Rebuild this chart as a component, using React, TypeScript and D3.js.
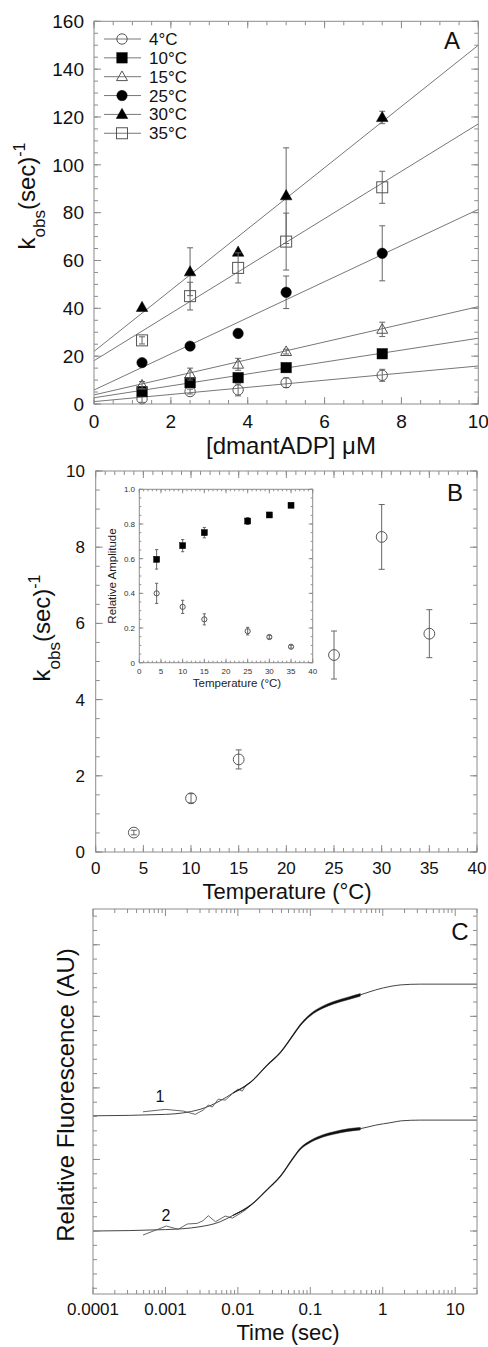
import React from "react";
import * as d3 from "d3";

const FONT = "'Liberation Sans', Arial, Helvetica, sans-serif";
const FRAME = "#8c8c8c";

// ---------- Panel A data ----------
const concA = [1.25, 2.5, 3.75, 5, 7.5];
const legendA = ["4°C", "10°C", "15°C", "25°C", "30°C", "35°C"];
const kobs4 = [2.2, 5.2, 5.9, 8.9, 12.0];
const err4 = [1.5, 1.0, 2.5, 2.0, 2.5];
const kobs10 = [5.2, 8.9, 11.0, 15.2, 21.0];
const err10 = [0.8, 0.8, 0.8, 0.8, 0.8];
const kobs15 = [7.9, 12.5, 16.6, 21.9, 31.2];
const err15 = [1.5, 2.5, 2.5, 1.0, 3.0];
const kobs25 = [17.3, 24.2, 29.5, 46.7, 63.0];
const err25 = [0.5, 0.5, 1.8, 6.8, 11.5];
const kobs30 = [40.4, 55.3, 63.5, 87.1, 119.8];
const err30 = [0.5, 10.0, 0.5, 20.0, 2.6];
const kobs35 = [26.6, 45.1, 56.9, 67.9, 90.6];
const err35 = [1.5, 5.8, 6.3, 11.9, 6.7];
const fitIntercepts = [1.0, 2.6, 3.8, 5.85, 22.0, 18.1];
const fitSlopes = [1.49, 2.49, 3.69, 7.55, 12.8, 9.9];
const xTicksA = [0, 2, 4, 6, 8, 10];
const yTicksA = [0, 20, 40, 60, 80, 100, 120, 140, 160];

// ---------- Panel B data ----------
const tempsB = [4, 10, 15, 25, 30, 35];
const kobsB = [0.51, 1.41, 2.43, 5.17, 8.27, 5.73];
const errB = [0.06, 0.12, 0.25, 0.63, 0.85, 0.63];
const ampFast = [0.596, 0.675, 0.75, 0.817, 0.852, 0.908];
const ampFastErr = [0.056, 0.035, 0.03, 0.02, 0.01, 0.008];
const ampSlow = [0.4, 0.322, 0.25, 0.182, 0.148, 0.092];
const ampSlowErr = [0.058, 0.038, 0.032, 0.022, 0.01, 0.008];
const xTicksB = [0, 5, 10, 15, 20, 25, 30, 35, 40];
const yTicksB = [0, 2, 4, 6, 8, 10];
const yTicksInset = [0, 0.2, 0.4, 0.6, 0.8, 1.0];

// ---------- Panel C data ----------
const timeFit = [0.0001, 0.001, 0.003, 0.0057, 0.0086, 0.015, 0.0255, 0.039, 0.058, 0.073, 0.1, 0.15, 0.21, 0.33, 0.49, 0.8, 1.3, 1.8, 3.3, 20];
const fitTrace1 = [1.61, 1.63, 1.7, 1.82, 1.93, 2.08, 2.32, 2.5, 2.74, 2.88, 3.02, 3.13, 3.19, 3.25, 3.3, 3.37, 3.42, 3.44, 3.45, 3.45];
const fitTrace2 = [0.0, 0.02, 0.06, 0.13, 0.22, 0.36, 0.58, 0.77, 1.02, 1.15, 1.25, 1.33, 1.37, 1.41, 1.43, 1.48, 1.515, 1.54, 1.55, 1.55];
const noiseHalf = [0, 0, 0, 0, 0.004, 0.006, 0.008, 0.009, 0.011, 0.012, 0.014, 0.016, 0.017, 0.018, 0.018, 0, 0, 0, 0, 0];
const rawTime1 = [0.00049, 0.001, 0.00176, 0.00258, 0.00332, 0.0039, 0.00443, 0.00536, 0.0067, 0.0086, 0.01, 0.0115, 0.013, 0.015];
const rawTrace1 = [1.666, 1.7, 1.676, 1.63, 1.69, 1.76, 1.732, 1.843, 1.829, 1.927, 1.983, 1.955, 2.039, 2.081];
const rawTime2 = [0.00049, 0.00103, 0.0015, 0.002, 0.00275, 0.0033, 0.0039, 0.0049, 0.0067, 0.0084, 0.0108, 0.013, 0.015];
const rawTrace2 = [-0.056, 0.07, 0.024, 0.098, 0.107, 0.144, 0.214, 0.13, 0.209, 0.181, 0.247, 0.3, 0.363];
const xTickLabelsC = ["0.0001", "0.001", "0.01", "0.1", "1", "10"];
const xTickValuesC = [0.0001, 0.001, 0.01, 0.1, 1, 10];
const yTicksC = [0, 1, 2, 3, 4];

function Frame({ xs, ys, xMajor, xMinor, yMajor, yMinor, maj = 7, min = 4 }: any) {
  const [x0, x1] = xs.range();
  const [y0, y1] = ys.range();
  const out: any[] = [];
  const add = (k: string, a: number, b: number, c: number, d: number) =>
    out.push(<line key={k} x1={a} y1={b} x2={c} y2={d} />);
  xMinor.forEach((v: number, i: number) => {
    const p = xs(v);
    add("xmb" + i, p, y0, p, y0 - min);
    add("xmt" + i, p, y1, p, y1 + min);
  });
  xMajor.forEach((v: number, i: number) => {
    const p = xs(v);
    add("xb" + i, p, y0, p, y0 - maj);
    add("xt" + i, p, y1, p, y1 + maj);
  });
  yMinor.forEach((v: number, i: number) => {
    const p = ys(v);
    add("yml" + i, x0, p, x0 + min, p);
    add("ymr" + i, x1, p, x1 - min, p);
  });
  yMajor.forEach((v: number, i: number) => {
    const p = ys(v);
    add("yl" + i, x0, p, x0 + maj, p);
    add("yr" + i, x1, p, x1 - maj, p);
  });
  return (
    <g stroke={FRAME} strokeWidth={1} fill="none">
      {out}
      <rect x={x0} y={y1} width={x1 - x0} height={y0 - y1} />
    </g>
  );
}

function Marker({ kind, cx, cy, s }: { kind: string; cx: number; cy: number; s: number }) {
  const open = { fill: "none", stroke: "#555", strokeWidth: 1 };
  const filled = { fill: "#000", stroke: "#000", strokeWidth: 0.5 };
  if (kind === "circle") return <circle cx={cx} cy={cy} r={s} {...open} />;
  if (kind === "circleF") return <circle cx={cx} cy={cy} r={s} {...filled} />;
  if (kind === "square") return <rect x={cx - s} y={cy - s} width={2 * s} height={2 * s} {...open} />;
  if (kind === "squareF") return <rect x={cx - s} y={cy - s} width={2 * s} height={2 * s} {...filled} />;
  const pts = `${cx},${cy - s * 1.1} ${cx - s * 1.05},${cy + s * 0.75} ${cx + s * 1.05},${cy + s * 0.75}`;
  if (kind === "tri") return <polygon points={pts} {...open} />;
  return <polygon points={pts} {...filled} />;
}

function ErrBar({ x, yLo, yHi, cap }: { x: number; yLo: number; yHi: number; cap: number }) {
  return (
    <g stroke="#666" strokeWidth={1}>
      <line x1={x} x2={x} y1={yLo} y2={yHi} />
      <line x1={x - cap} x2={x + cap} y1={yLo} y2={yLo} />
      <line x1={x - cap} x2={x + cap} y1={yHi} y2={yHi} />
    </g>
  );
}

function PanelA() {
  const xs = d3.scaleLinear().domain([0, 10]).range([94, 478.3]);
  const ys = d3.scaleLinear().domain([0, 160]).range([404, 21.3]);
  const series = [
    { v: kobs4, e: err4, kind: "circle", s: 5.2 },
    { v: kobs10, e: err10, kind: "squareF", s: 5.2 },
    { v: kobs15, e: err15, kind: "tri", s: 5.2 },
    { v: kobs25, e: err25, kind: "circleF", s: 5.2 },
    { v: kobs30, e: err30, kind: "triF", s: 5.5 },
    { v: kobs35, e: err35, kind: "square", s: 5.5 },
  ];
  return (
    <g>
      <defs>
        <clipPath id="clipA">
          <rect x={94} y={21.3} width={384.3} height={382.7} />
        </clipPath>
      </defs>
      <g clipPath="url(#clipA)" stroke="#777" strokeWidth={1} fill="none">
        {fitIntercepts.map((b, i) => {
          const pts: [number, number][] = xs.domain().map((x) => [x, b + fitSlopes[i] * x]);
          const path = d3.line<[number, number]>().x((d) => xs(d[0])).y((d) => ys(d[1]))(pts) || "";
          return <path key={i} d={path} />;
        })}
      </g>
      {series.map((sr, si) =>
        sr.v.map((v, i) => (
          <g key={si + "-" + i}>
            {sr.e[i] > 0.9 ? (
              <ErrBar x={xs(concA[i])} yLo={ys(v - sr.e[i])} yHi={ys(v + sr.e[i])} cap={3} />
            ) : null}
            <Marker kind={sr.kind} cx={xs(concA[i])} cy={ys(v)} s={sr.s} />
          </g>
        ))
      )}
      <Frame
        xs={xs}
        ys={ys}
        xMajor={xTicksA}
        xMinor={d3.range(0, 10.01, 0.5)}
        yMajor={yTicksA}
        yMinor={d3.range(0, 160.1, 5)}
      />
      <g fontFamily={FONT} fontSize={19} fill="#111">
        {xTicksA.map((t) => (
          <text key={t} x={xs(t)} y={428} textAnchor="middle">{t}</text>
        ))}
        {yTicksA.map((t) => (
          <text key={t} x={84} y={ys(t) + 6.8} textAnchor="end">{t}</text>
        ))}
      </g>
      <g fontFamily={FONT} fontSize={17} fill="#111">
        {legendA.map((lab, i) => {
          const yb = 45 + i * 18.85;
          const cy = yb - 6;
          return (
            <g key={lab}>
              <line x1={104} x2={141} y1={cy} y2={cy} stroke="#777" strokeWidth={1} />
              <Marker kind={series[i].kind} cx={122} cy={cy} s={series[i].s} />
              <text x={149} y={yb}>{lab}</text>
            </g>
          );
        })}
      </g>
      <text x={452} y={48.5} fontFamily={FONT} fontSize={24} textAnchor="middle" fill="#111">A</text>
      <text x={291} y={454} fontFamily={FONT} fontSize={24} textAnchor="middle" fill="#111">[dmantADP] μM</text>
      <text transform="translate(35,196) rotate(-90)" fontFamily={FONT} fontSize={24} textAnchor="middle" fill="#111">
        k<tspan fontSize={17} dy={10}>obs</tspan>
        <tspan dy={-10}>(sec)</tspan>
        <tspan fontSize={16} dy={-10}>-1</tspan>
      </text>
    </g>
  );
}

function PanelB() {
  const xs = d3.scaleLinear().domain([0, 40]).range([95.7, 477]);
  const ys = d3.scaleLinear().domain([0, 10]).range([852, 471]);
  const xi = d3.scaleLinear().domain([0, 40]).range([139.3, 312.7]);
  const yi = d3.scaleLinear().domain([0, 1]).range([662.7, 489.3]);
  return (
    <g>
      {tempsB.map((t, i) => (
        <g key={t}>
          <ErrBar x={xs(t)} yLo={ys(kobsB[i] - errB[i])} yHi={ys(kobsB[i] + errB[i])} cap={3} />
          <Marker kind="circle" cx={xs(t)} cy={ys(kobsB[i])} s={5.4} />
        </g>
      ))}
      <Frame
        xs={xs}
        ys={ys}
        xMajor={xTicksB}
        xMinor={d3.range(0, 40.1, 1)}
        yMajor={yTicksB}
        yMinor={d3.range(0, 10.01, 0.5)}
      />
      <g fontFamily={FONT} fontSize={17} fill="#111">
        {xTicksB.map((t) => (
          <text key={t} x={xs(t)} y={874} textAnchor="middle">{t}</text>
        ))}
        {yTicksB.map((t) => (
          <text key={t} x={85} y={ys(t) + 6} textAnchor="end">{t}</text>
        ))}
      </g>
      <text x={455} y={501} fontFamily={FONT} fontSize={24} textAnchor="middle" fill="#111">B</text>
      <text x={287} y={899} fontFamily={FONT} fontSize={22} textAnchor="middle" fill="#111">Temperature (°C)</text>
      <text transform="translate(50,628) rotate(-90)" fontFamily={FONT} fontSize={24} textAnchor="middle" fill="#111">
        k<tspan fontSize={17} dy={10}>obs</tspan>
        <tspan dy={-10}>(sec)</tspan>
        <tspan fontSize={16} dy={-10}>-1</tspan>
      </text>
      <rect x={139.3} y={489.3} width={173.4} height={173.4} fill="#fff" />
      {tempsB.map((t, i) => (
        <g key={"i" + t}>
          <ErrBar x={xi(t)} yLo={yi(ampFast[i] - ampFastErr[i])} yHi={yi(ampFast[i] + ampFastErr[i])} cap={1.6} />
          <ErrBar x={xi(t)} yLo={yi(ampSlow[i] - ampSlowErr[i])} yHi={yi(ampSlow[i] + ampSlowErr[i])} cap={1.6} />
          <Marker kind="squareF" cx={xi(t)} cy={yi(ampFast[i])} s={3} />
          <Marker kind="circle" cx={xi(t)} cy={yi(ampSlow[i])} s={2.6} />
        </g>
      ))}
      <Frame
        xs={xi}
        ys={yi}
        xMajor={xTicksB}
        xMinor={d3.range(0, 40.1, 1)}
        yMajor={yTicksInset}
        yMinor={d3.range(0, 1.001, 0.05)}
        maj={4}
        min={2}
      />
      <g fontFamily={FONT} fontSize={8} fill="#333">
        {xTicksB.map((t) => (
          <text key={t} x={xi(t)} y={674} textAnchor="middle">{t}</text>
        ))}
        {yTicksInset.map((t) => (
          <text key={t} x={135} y={yi(t) + 3} textAnchor="end">{t === 0 ? "0" : t.toFixed(1)}</text>
        ))}
      </g>
      <text x={237} y={687} fontFamily={FONT} fontSize={11.5} textAnchor="middle" fill="#222">Temperature (°C)</text>
      <text transform="translate(116,576) rotate(-90)" fontFamily={FONT} fontSize={11.5} textAnchor="middle" fill="#222">Relative Amplitude</text>
    </g>
  );
}

function PanelC() {
  const xs = d3.scaleLog().domain([0.0001, 20]).range([93, 477]);
  const ys = d3.scaleLinear().domain([-0.88, 4.5]).range([1294, 909]);
  const xMinor: number[] = [];
  [0.0001, 0.001, 0.01, 0.1, 1, 10].forEach((d) => {
    for (let k = 2; k <= 9; k++) if (d * k <= 20) xMinor.push(d * k);
  });
  const ln = d3
    .line<[number, number]>()
    .x((d) => xs(d[0]))
    .y((d) => ys(d[1]))
    .curve(d3.curveMonotoneX);
  const area = d3
    .area<[number, number, number]>()
    .x((d) => xs(d[0]))
    .y0((d) => ys(d[1] - d[2]))
    .y1((d) => ys(d[1] + d[2]))
    .curve(d3.curveMonotoneX);
  const fits = [fitTrace1, fitTrace2];
  const raws = [
    { t: rawTime1, v: rawTrace1 },
    { t: rawTime2, v: rawTrace2 },
  ];
  return (
    <g>
      {fits.map((f, k) => {
        const pts = timeFit.map((t, i) => [t, f[i]] as [number, number]);
        const band = timeFit
          .map((t, i) => [t, f[i], noiseHalf[i]] as [number, number, number])
          .filter((d) => d[2] > 0);
        const raw = raws[k].t.map((t, i) => [t, raws[k].v[i]] as [number, number]);
        return (
          <g key={k}>
            <path d={ln(pts) || ""} fill="none" stroke="#444" strokeWidth={1} />
            <path d={d3.line<[number, number]>().x((d) => xs(d[0])).y((d) => ys(d[1]))(raw) || ""} fill="none" stroke="#555" strokeWidth={0.9} />
            <path d={area(band) || ""} fill="#111" stroke="#222" strokeWidth={0.5} />
          </g>
        );
      })}
      <Frame
        xs={xs}
        ys={ys}
        xMajor={xTickValuesC}
        xMinor={xMinor}
        yMajor={yTicksC}
        yMinor={d3.range(-0.8, 4.41, 0.2)}
      />
      <g fontFamily={FONT} fontSize={17} fill="#111">
        {xTickValuesC.map((t, i) => (
          <text key={t} x={xs(t)} y={1315} textAnchor="middle">{xTickLabelsC[i]}</text>
        ))}
      </g>
      <text x={160} y={1102} fontFamily={FONT} fontSize={16} textAnchor="middle" fill="#111">1</text>
      <text x={166} y={1221} fontFamily={FONT} fontSize={16} textAnchor="middle" fill="#111">2</text>
      <text x={460} y={940} fontFamily={FONT} fontSize={24} textAnchor="middle" fill="#111">C</text>
      <text x={288} y={1340} fontFamily={FONT} fontSize={22} textAnchor="middle" fill="#111">Time (sec)</text>
      <text transform="translate(74,1095) rotate(-90)" fontFamily={FONT} fontSize={24} textAnchor="middle" fill="#111">Relative Fluorescence (AU)</text>
    </g>
  );
}

export default function App() {
  return (
    <svg
      width={488}
      height={1347}
      viewBox="0 0 488 1347"
      style={{ position: "absolute", left: 0, top: 0, background: "#fff" }}
    >
      <rect x={0} y={0} width={488} height={1347} fill="#fff" />
      <PanelA />
      <PanelB />
      <PanelC />
    </svg>
  );
}
